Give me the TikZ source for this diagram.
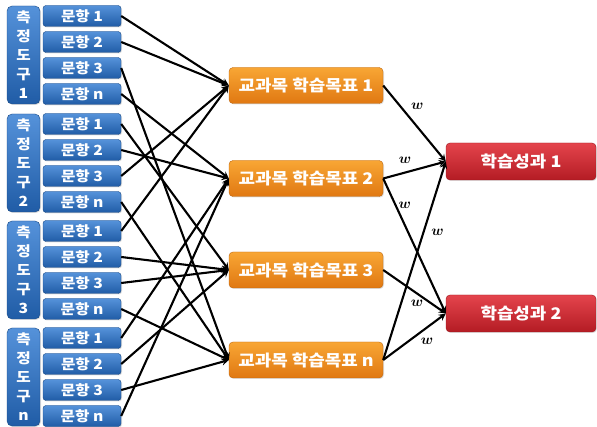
\documentclass[tikz,border=0pt]{standalone}
\usepackage{fontspec}
\newfontfamily\kr{Noto Sans CJK KR}[FakeStretch=1.12]
\usetikzlibrary{arrows,shapes,shadows,calc}

\definecolor{bltop}{HTML}{5592DA}
\definecolor{blbot}{HTML}{205CA6}
\definecolor{ortop}{HTML}{F8A634}
\definecolor{orbot}{HTML}{E07812}
\definecolor{rdtop}{HTML}{E4444C}
\definecolor{rdbot}{HTML}{B41C24}

\begin{document}
\begin{tikzpicture}[>=stealth, x=1pt, y=-1pt,
con/.style ={->, black, line width=2.1pt},
tool/.style ={rectangle, top color=bltop, bottom color=blbot, draw=blbot!80!black, thin, rounded corners=5pt, align=center, text=white, minimum width=33pt, minimum height=98pt, inner sep=0pt, font=\kr\bfseries\fontsize{14}{19}\selectfont, drop shadow={opacity=0.25, shadow xshift=1pt, shadow yshift=-1pt}},
item/.style ={rectangle, top color=bltop, bottom color=blbot, draw=blbot!80!black, thin, rounded corners=3pt, text=white, minimum width=78pt, minimum height=21pt, inner sep=0pt, font=\kr\bfseries\fontsize{14}{15}\selectfont, drop shadow={opacity=0.25, shadow xshift=1pt, shadow yshift=-1pt}},
subj/.style ={rectangle, top color=ortop, bottom color=orbot, draw=orbot!85!black, thin, rounded corners=4pt, text=white, minimum width=154pt, minimum height=36pt, inner sep=0pt, font=\kr\bfseries\fontsize{16}{18}\selectfont, drop shadow={opacity=0.25, shadow xshift=1pt, shadow yshift=-1pt}},
outc/.style ={rectangle, top color=rdtop, bottom color=rdbot, draw=rdbot!85!black, thin, rounded corners=4pt, text=white, minimum width=150pt, minimum height=37pt, inner sep=0pt, font=\kr\bfseries\fontsize{16}{18}\selectfont, drop shadow={opacity=0.25, shadow xshift=1pt, shadow yshift=-1pt}},
wlab/.style ={font=\boldmath\fontsize{14}{15}\selectfont, inner sep=0pt}]

\useasboundingbox (0,0) rectangle (597,427);

\draw (23.5,55) node[tool] (Gr1) {측\\정\\도\\구\\1};
\draw (23.5,163) node[tool] (Gr2) {측\\정\\도\\구\\2};
\draw (23.5,270) node[tool] (Gr3) {측\\정\\도\\구\\3};
\draw (23.5,377) node[tool] (Gr4) {측\\정\\도\\구\\n};

\draw (82,16) node[item] (It11) {문항 1};
\draw (82,42) node[item] (It12) {문항 2};
\draw (82,68) node[item] (It13) {문항 3};
\draw (82,94) node[item] (It14) {문항 n};
\draw (82,124) node[item] (It21) {문항 1};
\draw (82,150) node[item] (It22) {문항 2};
\draw (82,176) node[item] (It23) {문항 3};
\draw (82,202) node[item] (It24) {문항 n};
\draw (82,231) node[item] (It31) {문항 1};
\draw (82,257) node[item] (It32) {문항 2};
\draw (82,283) node[item] (It33) {문항 3};
\draw (82,309) node[item] (It34) {문항 n};
\draw (82,338) node[item] (It41) {문항 1};
\draw (82,364) node[item] (It42) {문항 2};
\draw (82,390) node[item] (It43) {문항 3};
\draw (82,416) node[item] (It44) {문항 n};

\draw (306,85.5) node[subj] (Sub1) {교과목 학습목표 1};
\draw (306,178.5) node[subj] (Sub2) {교과목 학습목표 2};
\draw (306,270) node[subj] (Sub3) {교과목 학습목표 3};
\draw (306,360) node[subj] (Sub4) {교과목 학습목표 n};

\draw (521,161.5) node[outc] (Out1) {학습성과 1};
\draw (521,313.5) node[outc] (Out2) {학습성과 2};

\draw[con] (It11.east)--(Sub1.west);
\draw[con] (It12.east)--(Sub1.west);
\draw[con] (It23.east)--(Sub1.west);
\draw[con] (It31.east)--(Sub1.west);

\draw[con] (It14.east)--(Sub2.west);
\draw[con] (It22.east)--(Sub2.west);
\draw[con] (It41.east)--(Sub2.west);
\draw[con] (It44.east)--(Sub2.west);

\draw[con] (It21.east)--(Sub3.west);
\draw[con] (It32.east)--(Sub3.west);
\draw[con] (It33.east)--(Sub3.west);
\draw[con] (It42.east)--(Sub3.west);

\draw[con] (It13.east)--(Sub4.west);
\draw[con] (It24.east)--(Sub4.west);
\draw[con] (It34.east)--(Sub4.west);
\draw[con] (It43.east)--(Sub4.west);

\draw[con] (Sub1.east)--node[wlab, pos=0.4, xshift=9pt, yshift=10pt] {$w$} (Out1.west);
\draw[con] (Sub2.east)--node[wlab, pos=0.35, yshift=12pt] {$w$} (Out1.west);
\draw[con] (Sub2.east)--node[wlab, pos=0.2, xshift=9pt] {$w$} (Out2.west);
\draw[con] (Sub4.east)--node[wlab, pos=0.645, xshift=14pt] {$w$} (Out1.west);
\draw[con] (Sub3.east)--node[wlab, pos=0.54, yshift=-10pt] {$w$} (Out2.west);
\draw[con] (Sub4.east)--node[wlab, pos=0.7, yshift=-14pt] {$w$} (Out2.west);

\end{tikzpicture}
\end{document}
